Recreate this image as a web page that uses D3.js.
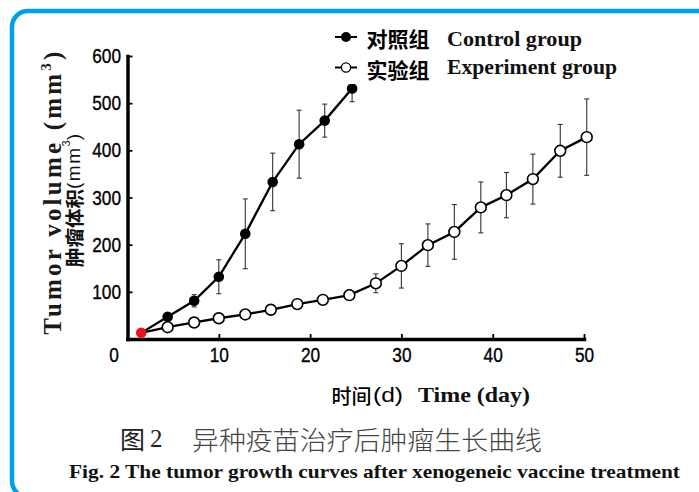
<!DOCTYPE html>
<html><head><meta charset="utf-8">
<script src="https://cdn.jsdelivr.net/npm/d3@7/dist/d3.min.js"></script>
<style>html,body{margin:0;padding:0;background:#fff;} svg{display:block}</style>
</head><body>
<svg id="c" width="699" height="492"></svg>
<script>
// ---- data ----
const controlDays = [1.5, 4.4, 7.3, 10.0, 12.9, 15.9, 18.8, 21.6, 24.6];
const controlMean = [13, 47, 81, 132, 223, 333, 413, 463, 531];
const controlSD   = [0, 5, 13, 36, 74, 61, 72, 35, 28];
const expDays = [1.5, 4.4, 7.3, 10.0, 12.9, 15.7, 18.6, 21.4, 24.3, 27.2, 30.0, 32.9, 35.8, 38.7, 41.5, 44.4, 47.4, 50.3];
const expMean = [13, 25, 35, 44, 52, 62, 74, 83, 93, 118, 155, 199, 227, 279, 305, 339, 399, 428];
const expSD   = [0, 0, 0, 0, 0, 0, 0, 0, 11, 20, 47, 45, 58, 54, 48, 53, 56, 81];
const xTicks = [0, 10, 20, 30, 40, 50];
const yTicks = [100, 200, 300, 400, 500, 600];
const legendCN = ["对照组", "实验组"];
const legendEN = ["Control group", "Experiment group"];

const svg = d3.select('#c');
const CJK = '"Noto Sans CJK SC", "Noto Sans CJK JP", sans-serif';
const SERIF = '"Liberation Serif", "Times New Roman", serif';
const NARROW = '"Liberation Sans Narrow", "Arial Narrow", "Liberation Sans", sans-serif';

function fit(sel, w) {
  const n = sel.text().length;
  const nat = sel.node().getComputedTextLength();
  sel.attr('letter-spacing', ((w - nat) / Math.max(1, n - 1)).toFixed(2));
}

// frame
svg.append('rect').attr('x', 12).attr('y', 11).attr('width', 740).attr('height', 486)
  .attr('rx', 16).attr('fill', 'none').attr('stroke', '#00a0e9').attr('stroke-width', 4.5);

const x = d3.scaleLinear().domain([0, 50]).range([127.5, 584]);
const y = d3.scaleLinear().domain([0, 600]).range([339, 56]);

// axes
const xAxis = svg.append('g').attr('transform', `translate(0,${y(0)})`)
  .call(d3.axisBottom(x).tickValues(xTicks).tickSize(-5).tickSizeOuter(0).tickPadding(8));
const yAxis = svg.append('g').attr('transform', `translate(${x(0)},0)`)
  .call(d3.axisLeft(y).tickValues(yTicks).tickSize(-5).tickSizeOuter(0).tickPadding(6.5));
[xAxis, yAxis].forEach(g => {
  g.select('.domain').attr('stroke', '#000').attr('stroke-width', 3.5).attr('stroke-linecap', 'square');
  g.selectAll('.tick line').attr('stroke', '#000').attr('stroke-width', 1.8);
  g.selectAll('.tick text').attr('fill', '#000').attr('font-family', NARROW).attr('font-size', 20.5)
    .attr('stroke', '#000').attr('stroke-width', 0.35)
    .attr('lengthAdjust', 'spacingAndGlyphs')
    .attr('textLength', function () { return this.textContent.length * 9.6; });
});
xAxis.selectAll('.tick').filter(d => d === 0).select('line').remove();
xAxis.selectAll('.tick').filter(d => d === 0).select('text').attr('x', -14);

// lines
const line = d3.line().x(d => x(d[0])).y(d => y(d[1]));
const ctrl = controlDays.map((d, i) => [d, controlMean[i], controlSD[i]]);
const expr = expDays.map((d, i) => [d, expMean[i], expSD[i]]);

function errorBars(data) {
  const g = svg.append('g').attr('stroke', '#333').attr('stroke-width', 1.1);
  data.filter(d => d[2] > 0).forEach(d => {
    const cx = x(d[0]), t = y(d[1] + d[2]), b = y(d[1] - d[2]);
    g.append('line').attr('x1', cx).attr('x2', cx).attr('y1', t).attr('y2', b);
    g.append('line').attr('x1', cx - 2.5).attr('x2', cx + 2.5).attr('y1', t).attr('y2', t);
    g.append('line').attr('x1', cx - 2.5).attr('x2', cx + 2.5).attr('y1', b).attr('y2', b);
  });
}
errorBars(expr);
errorBars(ctrl);

svg.append('path').datum(expr).attr('d', line).attr('fill', 'none').attr('stroke', '#000').attr('stroke-width', 2.3);
svg.append('path').datum(ctrl).attr('d', line).attr('fill', 'none').attr('stroke', '#000').attr('stroke-width', 2.3);

svg.append('g').selectAll('circle').data(expr.slice(1)).join('circle')
  .attr('cx', d => x(d[0])).attr('cy', d => y(d[1])).attr('r', 5.4)
  .attr('fill', '#fff').attr('stroke', '#000').attr('stroke-width', 1.6);
svg.append('g').selectAll('circle').data(ctrl.slice(1)).join('circle')
  .attr('cx', d => x(d[0])).attr('cy', d => y(d[1])).attr('r', 5.3).attr('fill', '#000');
// shared starting point (red)
svg.append('circle').attr('cx', x(controlDays[0])).attr('cy', y(controlMean[0])).attr('r', 5.3).attr('fill', '#e8141b');

// legend (with white background)
svg.append('rect').attr('x', 330).attr('y', 18).attr('width', 300).attr('height', 66).attr('fill', '#fff');
const legY = [37, 67.5];
legY.forEach((ly, i) => {
  svg.append('line').attr('x1', 335).attr('x2', 357).attr('y1', ly).attr('y2', ly).attr('stroke', '#000').attr('stroke-width', 2);
  svg.append('circle').attr('cx', 346).attr('cy', ly).attr('r', i === 0 ? 5 : 4.6)
    .attr('fill', i === 0 ? '#000' : '#fff').attr('stroke', '#000').attr('stroke-width', i === 0 ? 0 : 1.3);
  svg.append('text').attr('x', 366.5).attr('y', ly + 1).attr('dominant-baseline', 'central')
    .attr('font-family', CJK).attr('font-weight', 700).attr('font-size', 21)
    .attr('textLength', 63).attr('lengthAdjust', 'spacingAndGlyphs').text(legendCN[i]);
  svg.append('text').attr('x', 447).attr('y', i === 0 ? 46 : 74)
    .attr('font-family', SERIF).attr('font-weight', 700).attr('font-size', 20.5).attr('fill', '#111')
    .attr('textLength', i === 0 ? 135 : 170).attr('lengthAdjust', 'spacingAndGlyphs').text(legendEN[i]);
});

// y titles
const yt = svg.append('text').attr('transform', 'translate(60.5,191.5) rotate(-90)')
  .attr('text-anchor', 'middle').attr('font-family', SERIF).attr('font-weight', 700)
  .attr('font-size', 25).attr('fill', '#1a1a1a');
yt.append('tspan').text('Tumor volume (mm');
yt.append('tspan').attr('font-size', 15).attr('dy', -10).text('3');
yt.append('tspan').attr('dy', 10).text(')');
fit(yt, 283);

const yt2 = svg.append('text').attr('transform', 'translate(73,200.5) rotate(-90)')
  .attr('text-anchor', 'middle').attr('dominant-baseline', 'central').attr('fill', '#111');
yt2.append('tspan').attr('font-family', CJK).attr('font-weight', 700).attr('font-size', 19.5).text('肿瘤体积');
yt2.append('tspan').attr('font-family', NARROW).attr('font-size', 19).attr('letter-spacing', 1.5).text('(mm');
yt2.append('tspan').attr('font-family', NARROW).attr('font-size', 11).attr('dy', -7).text('3');
yt2.append('tspan').attr('font-family', NARROW).attr('font-size', 19).attr('dy', 7).text(')');

// x title
svg.append('text').attr('x', 331.5).attr('y', 395.5).attr('dominant-baseline', 'central')
  .attr('font-family', CJK).attr('font-weight', 500).attr('font-size', 20)
  .attr('textLength', 40).attr('lengthAdjust', 'spacingAndGlyphs').text('时间');
svg.append('text').attr('x', 373).attr('y', 402)
  .attr('font-family', NARROW).attr('font-size', 20)
  .attr('textLength', 30).attr('lengthAdjust', 'spacingAndGlyphs').text('(d)');
svg.append('text').attr('x', 418).attr('y', 402)
  .attr('font-family', SERIF).attr('font-weight', 700).attr('font-size', 21).attr('fill', '#111')
  .attr('textLength', 112).attr('lengthAdjust', 'spacingAndGlyphs').text('Time (day)');

// captions
svg.append('text').attr('x', 120).attr('y', 438).attr('dominant-baseline', 'central')
  .attr('font-family', CJK).attr('font-weight', 400).attr('font-size', 25).attr('fill', '#222').text('图');
svg.append('text').attr('x', 150).attr('y', 447)
  .attr('font-family', SERIF).attr('font-size', 25).attr('fill', '#222').text('2');
svg.append('text').attr('x', 192).attr('y', 438).attr('dominant-baseline', 'central')
  .attr('font-family', CJK).attr('font-weight', 300).attr('font-size', 26).attr('fill', '#444')
  .attr('textLength', 350).attr('lengthAdjust', 'spacingAndGlyphs').text('异种疫苗治疗后肿瘤生长曲线');
svg.append('text').attr('x', 69).attr('y', 478)
  .attr('font-family', SERIF).attr('font-weight', 700).attr('font-size', 19.5).attr('fill', '#111')
  .attr('textLength', 611).attr('lengthAdjust', 'spacingAndGlyphs')
  .text('Fig. 2 The tumor growth curves after xenogeneic vaccine treatment');
</script>
</body></html>
